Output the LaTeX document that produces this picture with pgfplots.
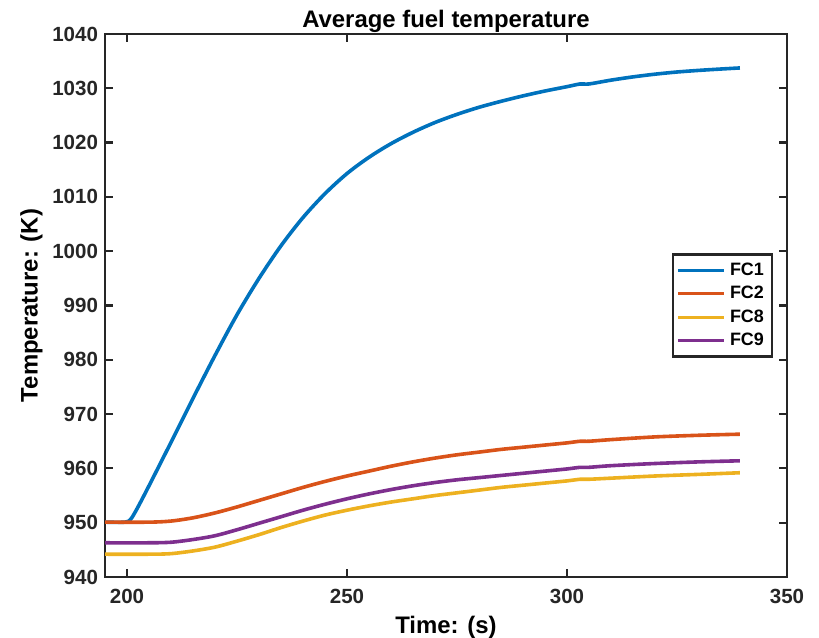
\documentclass[border=0pt]{standalone}
\usepackage{fontspec}
\setmainfont{Liberation Sans}
\usepackage{pgfplots}
\pgfplotsset{compat=1.18}

\definecolor{mblue}{rgb}{0,0.447,0.741}
\definecolor{morange}{rgb}{0.85,0.325,0.098}
\definecolor{myellow}{rgb}{0.929,0.694,0.125}
\definecolor{mpurple}{rgb}{0.494,0.184,0.556}
\definecolor{axgray}{rgb}{0.15,0.15,0.15}

\begin{document}
\begin{tikzpicture}
\useasboundingbox (0,0) rectangle (409.5bp,319bp);
\begin{axis}[
  name=ax,
  at={(52.5bp,30.5bp)}, anchor=south west,
  scale only axis,
  width=341bp, height=271.5bp,
  xmin=195, xmax=350,
  ymin=940, ymax=1040,
  xtick={200,250,300,350},
  ytick={940,950,...,1040},
  tick align=inside,
  major tick length=4bp,
  axis line style={axgray, line width=1.1bp},
  every tick/.style={axgray, line width=1.1bp},
  /pgf/number format/assume math mode=true,
  /pgf/number format/1000 sep={},
  tick label style={font=\bfseries\fontsize{10.3}{12}\selectfont, text=axgray},
  xticklabel style={yshift=-2.5bp},
  xlabel={Time: (s)},
  ylabel={Temperature: (K)},
  label style={font=\bfseries\fontsize{12}{14}\selectfont},
  xlabel style={yshift=0.5bp},
  ylabel shift=-2bp,
  legend style={at={(1,0.5)}, anchor=east, xshift=-7bp,
    font=\bfseries\fontsize{9}{11}\selectfont,
    draw=axgray, line width=1.1bp, inner sep=2bp,
    legend cell align=left},
  legend image code/.code={\draw[#1, line width=1.7bp] (0bp,0bp) -- (23bp,0bp);},
]
\addplot[mblue, line width=1.8bp, smooth, tension=0.5] coordinates {
(195,950.1) (199.5,950.1) (200.8,950.6) (202.3,952.6) (205,956.8) (210,964.8) (215,972.9)
(220,980.8) (225,988.3) (230,995.0) (235,1001.0) (240,1006.2) (245,1010.6)
(250,1014.3) (255,1017.3) (260,1019.8) (265,1021.9) (270,1023.7) (275,1025.2)
(280,1026.5) (285,1027.6) (290,1028.6) (295,1029.5) (300,1030.3) (303,1030.8)
(305,1030.8) (310,1031.5) (315,1032.1) (320,1032.6) (325,1033.0) (330,1033.3)
(335,1033.55) (339.3,1033.75)
};
\addlegendentry{FC1}
\addplot[morange, line width=1.8bp, smooth, tension=0.5] coordinates {
(195,950.1) (205,950.1) (210,950.3) (215,950.9) (220,951.8) (225,952.9)
(230,954.1) (235,955.3) (240,956.5) (245,957.6) (250,958.6) (255,959.5)
(260,960.4) (265,961.2) (270,961.9) (275,962.5) (280,963.0) (285,963.5)
(290,963.9) (295,964.3) (300,964.7) (303,965.0) (305,965.0) (310,965.3)
(320,965.8) (330,966.1) (339.3,966.3)
};
\addlegendentry{FC2}
\addplot[myellow, line width=1.8bp, smooth, tension=0.5] coordinates {
(195,944.2) (205,944.2) (210,944.3) (215,944.8) (220,945.5) (225,946.6)
(230,947.8) (235,949.1) (240,950.3) (245,951.4) (250,952.3) (255,953.1)
(260,953.8) (265,954.4) (270,955.0) (275,955.5) (280,956.0) (285,956.5)
(290,956.9) (295,957.3) (300,957.7) (303,958.0) (305,958.0) (310,958.2)
(320,958.6) (330,958.9) (339.3,959.2)
};
\addlegendentry{FC8}
\addplot[mpurple, line width=1.8bp, smooth, tension=0.5] coordinates {
(195,946.3) (205,946.3) (210,946.4) (215,946.9) (220,947.6) (225,948.7)
(230,949.9) (235,951.1) (240,952.3) (245,953.4) (250,954.4) (255,955.3)
(260,956.1) (265,956.8) (270,957.4) (275,957.9) (280,958.3) (285,958.7)
(290,959.1) (295,959.5) (300,959.9) (303,960.2) (305,960.2) (310,960.5)
(320,960.9) (330,961.2) (339.3,961.4)
};
\addlegendentry{FC9}
\end{axis}
\node[anchor=base, inner sep=0pt, font=\bfseries\fontsize{12}{14}\selectfont]
  at ([yshift=3bp]ax.north) {Average fuel temperature};
\end{tikzpicture}
\end{document}
